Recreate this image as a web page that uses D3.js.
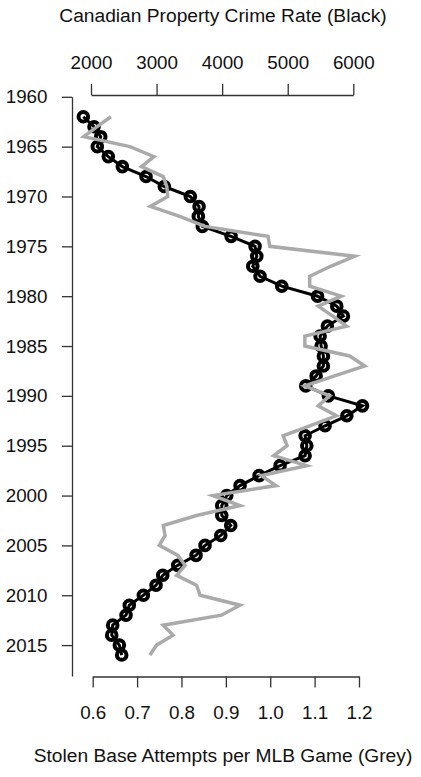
<!DOCTYPE html>
<html>
<head>
<meta charset="utf-8">
<script src="https://cdn.jsdelivr.net/npm/d3@7"></script>
<style>
  html, body { margin: 0; padding: 0; background: #fff; }
  svg { display: block; font-family: "Liberation Sans", Arial, Helvetica, sans-serif; }
  .axis path, .axis line { stroke: #333; stroke-width: 1.3; }
  .axis text { fill: #111; font-size: 18.8px; }
</style>
</head>
<body>
<svg id="chart" width="421" height="777"></svg>
<script>
// years for both series
const years = d3.range(1962, 2017)

// Canadian property crime rate (black)
const crimeRate = [
  1883, 2046, 2148, 2096, 2264, 2478, 2839, 3118, 3515, 3648,
  3637, 3698, 4136, 4502, 4528, 4467, 4578, 4909, 5455, 5748,
  5849, 5605, 5494, 5509, 5544, 5544, 5433, 5275, 5620, 6140,
  5901, 5570, 5265, 5291, 5265, 4883, 4563, 4273, 4070, 3994,
  3994, 4131, 3979, 3739, 3602, 3323, 3094, 2992, 2798, 2584,
  2534, 2331, 2316, 2432, 2468
]

// stolen base attempts per MLB game (grey)
const stolenBases = [
  0.641, 0.610, 0.580, 0.684, 0.738, 0.710, 0.759, 0.767, 0.769, 0.730,
  0.796, 0.853, 0.995, 0.999, 1.190, 1.136, 1.089, 1.089, 1.160, 1.108,
  1.141, 1.172, 1.078, 1.078, 1.179, 1.213, 1.145, 1.078, 1.134, 1.108,
  1.149, 1.089, 1.029, 1.038, 1.008, 1.082, 0.980, 1.013, 0.871, 0.932,
  0.834, 0.759, 0.763, 0.750, 0.792, 0.808, 0.789, 0.834, 0.842, 0.932,
  0.890, 0.759, 0.781, 0.744, 0.729
]

const yearTicks = d3.range(1960, 2016, 5)
const crimeTicks = [2000, 3000, 4000, 5000, 6000]
const baseTicks = [0.6, 0.7, 0.8, 0.9, 1.0, 1.1, 1.2]

const svg = d3.select('#chart')

const scaleY = d3.scaleLinear().domain([1960, 2018.1]).range([96.8, 676])
const scaleCrime = d3.scaleLinear().domain([2000, 6000]).range([91, 353.3])
const scaleBase = d3.scaleLinear().domain([0.6, 1.2]).range([92.7, 359])

// axes
svg.append('g')
  .attr('class', 'axis y')
  .attr('transform', 'translate(72, 0)')
  .call(d3.axisLeft(scaleY).tickValues(yearTicks).tickFormat(d3.format('d'))
    .tickSize(10).tickSizeOuter(0).tickPadding(14.5))

svg.append('g')
  .attr('class', 'axis top')
  .attr('transform', 'translate(0, 95)')
  .call(d3.axisTop(scaleCrime).tickValues(crimeTicks).tickFormat(d3.format('d'))
    .tickSize(11).tickSizeOuter(0).tickPadding(15.5))

const bottom = svg.append('g')
  .attr('class', 'axis bottom')
  .attr('transform', 'translate(0, 676.5)')
  .call(d3.axisBottom(scaleBase).tickValues(baseTicks).tickFormat(d3.format('.1f'))
    .tickSize(11).tickSizeOuter(0))
bottom.selectAll('text').attr('dy', null).attr('y', 42.5)

svg.selectAll('.axis .domain').attr('fill', 'none')

// titles
svg.append('text')
  .attr('x', 223)
  .attr('y', 22)
  .attr('text-anchor', 'middle')
  .style('font-size', '19.2px')
  .attr('fill', '#111')
  .text('Canadian Property Crime Rate (Black)')

svg.append('text')
  .attr('x', 223)
  .attr('y', 762)
  .attr('text-anchor', 'middle')
  .style('font-size', '19.2px')
  .attr('fill', '#111')
  .text('Stolen Base Attempts per MLB Game (Grey)')

// series data
const crimeData = years.map((y, i) => ({ year: y, value: crimeRate[i] }))
const baseData = years.map((y, i) => ({ year: y, value: stolenBases[i] }))

const lineCrime = d3.line()
  .x((d) => scaleCrime(d.value))
  .y((d) => scaleY(d.year))

const lineBase = d3.line()
  .x((d) => scaleBase(d.value))
  .y((d) => scaleY(d.year))

svg.append('path')
  .attr('d', lineCrime(crimeData))
  .attr('fill', 'none')
  .attr('stroke', '#000')
  .attr('stroke-width', 3)

svg.append('g')
  .selectAll('circle')
  .data(crimeData)
  .join('circle')
  .attr('cx', (d) => scaleCrime(d.value))
  .attr('cy', (d) => scaleY(d.year))
  .attr('r', 4.8)
  .attr('fill', 'none')
  .attr('stroke', '#000')
  .attr('stroke-width', 4)

svg.append('path')
  .attr('d', lineBase(baseData))
  .attr('fill', 'none')
  .attr('stroke', '#aaa')
  .attr('stroke-width', 3.5)
</script>
</body>
</html>
